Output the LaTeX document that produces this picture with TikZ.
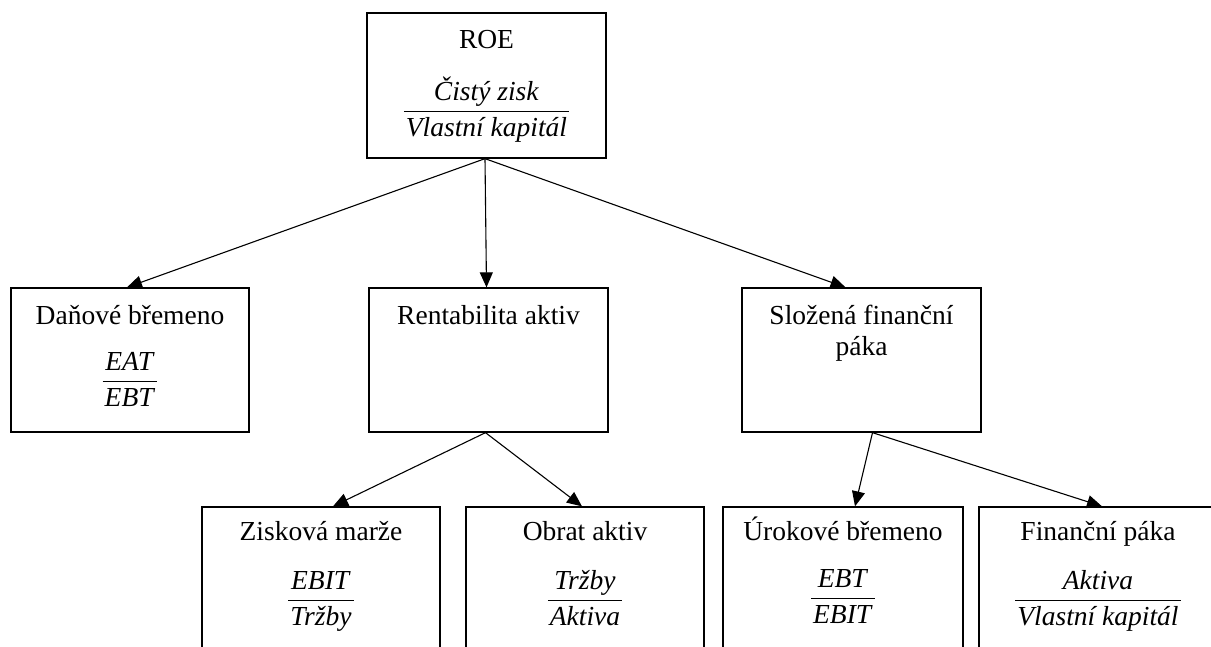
\documentclass[tikz,border=0pt]{standalone}
\usepackage{fontspec}
\usepackage{array}
\setmainfont{Liberation Serif}
\usetikzlibrary{arrows.meta}

\tikzset{
  box/.style={draw, line width=1.3pt, minimum height=144pt, inner sep=0pt},
  lowbox/.style={box, minimum height=166pt},
  title/.style={anchor=base, inner sep=0pt, font=\fontsize{27.5}{31}\selectfont},
  ratio/.style={anchor=base, inner sep=0pt, font=\fontsize{27.5}{31}\selectfont},
}
% fraction: numerator, rule, denominator (baseline = numerator)
\newcommand{\ratiofrac}[2]{\setlength{\arrayrulewidth}{1.3pt}\renewcommand{\arraystretch}{1.15}%
  \begin{tabular}[t]{@{\hspace{2pt}}c@{\hspace{2pt}}}\textit{#1}\\\hline\textit{#2}\end{tabular}}

\begin{document}
\begin{tikzpicture}[x=1pt, y=-1pt]
    \useasboundingbox (0,0) rectangle (1211,646);
    \clip (0,0) rectangle (1211,646);

    % top
    \node [box, minimum width=239pt, minimum height=145pt] (roe) at (486.5,85.5) {};
    \node [title] (roe-t) at (486.5,48) {ROE};
    \node [ratio] (roe-f) at (486.5,100) {\ratiofrac{Čistý zisk}{Vlastní kapitál}};

    % middle row
    \node [box, minimum width=238pt] (dan) at (130,360) {};
    \node [title] (dan-t) at (130,324) {Daňové břemeno};
    \node [ratio] (dan-f) at (130,370) {\ratiofrac{EAT}{EBT}};

    \node [box, minimum width=239pt] (rent) at (488.5,360) {};
    \node [title] (rent-t) at (488.5,324) {Rentabilita aktiv};

    \node [box, minimum width=239pt] (slo) at (861.5,360) {};
    \node [title] (slo-t) at (861.5,324) {\begin{tabular}[t]{@{}c@{}}Složená finanční\\páka\end{tabular}};

    % bottom row
    \node [lowbox, minimum width=238pt] (zisk) at (321,590) {};
    \node [title] (zisk-t) at (321,540) {Zisková marže};
    \node [ratio] (zisk-f) at (321,589) {\ratiofrac{EBIT}{Tržby}};

    \node [lowbox, minimum width=238pt] (obrat) at (585,590) {};
    \node [title] (obrat-t) at (585,540) {Obrat aktiv};
    \node [ratio] (obrat-f) at (585,589) {\ratiofrac{Tržby}{Aktiva}};

    \node [lowbox, minimum width=240pt] (uro) at (843,590) {};
    \node [title] (uro-t) at (843,540) {Úrokové břemeno};
    \node [ratio] (uro-f) at (843,587) {\ratiofrac{EBT}{EBIT}};

    \node [lowbox, minimum width=238pt] (fin) at (1098,590) {};
    \node [title] (fin-t) at (1098,540) {Finanční páka};
    \node [ratio] (fin-f) at (1098,589) {\ratiofrac{Aktiva}{Vlastní kapitál}};

    % arrows
    \draw [->, >={Triangle[length=15pt,width=13pt]}, line width=1.1pt] ([xshift=-1.5pt]roe.south) -- ([xshift=-3pt]dan.north);
    \draw [->, >={Triangle[length=15pt,width=13pt]}, line width=1.1pt] ([xshift=-1.5pt]roe.south) -- ([xshift=-2pt]rent.north);
    \draw [->, >={Triangle[length=15pt,width=13pt]}, line width=1.1pt] ([xshift=-1.5pt]roe.south) -- ([xshift=-16pt]slo.north);
    \draw [->, >={Triangle[length=15pt,width=13pt]}, line width=1.1pt] ([xshift=-3pt]rent.south) -- ([xshift=12pt]zisk.north);
    \draw [->, >={Triangle[length=15pt,width=13pt]}, line width=1.1pt] ([xshift=-3pt]rent.south) -- ([xshift=-3pt]obrat.north);
    \draw [->, >={Triangle[length=15pt,width=13pt]}, line width=1.1pt] ([xshift=11pt]slo.south) -- ([xshift=12pt]uro.north);
    \draw [->, >={Triangle[length=15pt,width=13pt]}, line width=1.1pt] ([xshift=11pt]slo.south) -- ([xshift=4pt]fin.north);
\end{tikzpicture}
\end{document}
